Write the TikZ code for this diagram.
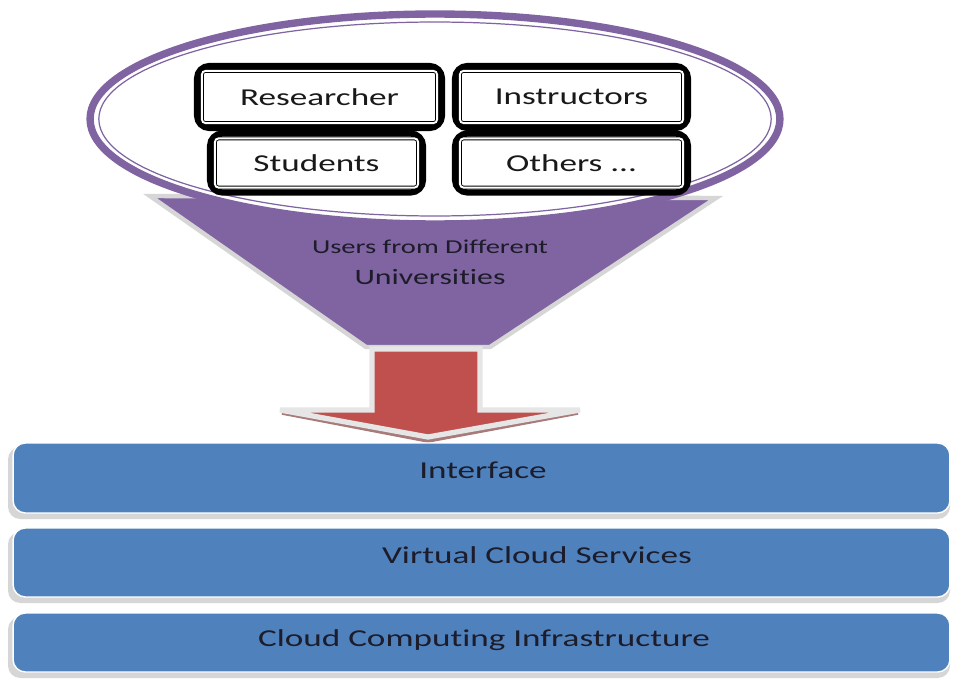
\documentclass[tikz,border=0pt]{standalone}
\usepackage{fontspec}
\setmainfont{Carlito}[FakeStretch=1.45, Ligatures=NoCommon]
\usetikzlibrary{shapes.geometric,calc}
\definecolor{upurple}{HTML}{8064A2}
\definecolor{ured}{HTML}{C0504D}
\definecolor{ublue}{HTML}{4F81BD}
\definecolor{utext}{HTML}{1C1C2A}
\definecolor{ushadow}{HTML}{D6D6D6}
\definecolor{ubevel}{HTML}{A87A7A}
\begin{document}
\begin{tikzpicture}[x=0.02cm,y=-0.02cm,
 rolebox/.style={draw=black, line width=3.5pt, rounded corners=7pt, fill=white, font=\fontsize{13.8}{16}\selectfont, text=black!90},
 innerbox/.style={draw=black, double=white, double distance=1.1pt, line width=0.5pt, rounded corners=2pt},
 layer/.style={fill=ublue, draw=white, line width=0.8pt, rounded corners=7pt, minimum width=18.74cm},
 layertext/.style={font=\fontsize{13.8}{16}\selectfont, text=utext},
 shadowbox/.style={fill=ushadow, rounded corners=7pt},
]
\useasboundingbox (0,0) rectangle (953,679);
\fill[white] (0,0) rectangle (953,679);

% funnel
\filldraw[fill=upurple, draw=ushadow, line width=2.5pt] (150,196) -- (716,198) -- (490,347) -- (366,347) -- cycle;
% arrow
\draw[ubevel, line width=2pt, line join=round] (282,413) -- (428,441) -- (578,413);
\filldraw[fill=ured, draw=ushadow!60, line width=3pt] (372,349) -- (480,349) -- (480,410) -- (580,410) -- (428,437) -- (280,410) -- (372,410) -- cycle;

% ellipse
\node[ellipse, draw=upurple, line width=4.2pt, fill=white, minimum width=13.8cm, minimum height=4.2cm] (users) at (435,119) {};
\node[ellipse, draw=upurple, line width=0.7pt, minimum width=13.45cm, minimum height=3.88cm] (usersin) at (users.center) {};

% role boxes
\node[rolebox, minimum width=4.9cm, minimum height=1.24cm] (res) at (319.5,97) {Researcher};
\node[rolebox, minimum width=4.66cm, minimum height=1.24cm] (ins) at (571.5,97) {Instructors};
\node[rolebox, minimum width=4.26cm, minimum height=1.18cm] (stu) at (316.5,163) {Students};
\node[rolebox, minimum width=4.66cm, minimum height=1.18cm] (oth) at (571.5,163) {Others ...};
\foreach \n in {res,ins,stu,oth}
  \draw[innerbox] ($(\n.north west)+(8,8)$) rectangle ($(\n.south east)+(-8,-8)$);

% funnel labels
\node[font=\fontsize{11.2}{13}\selectfont, text=utext] (ulbl) at (430,247) {Users from Different};
\node[font=\fontsize{12.5}{15}\selectfont, text=utext] (univ) at (430,277) {Universities};

% layers
\fill[shadowbox] (8,447) rectangle (950,519);
\fill[shadowbox] (8,532) rectangle (950,603);
\fill[shadowbox] (8,617) rectangle (950,678);
\node[layer, minimum height=1.4cm] (l1) at (481.5,478) {};
\node[layer, minimum height=1.38cm] (l2) at (481.5,562.5) {};
\node[layer, minimum height=1.18cm] (l3) at (481.5,642.5) {};
\node[layertext] (t1) at (483,470) {Interface};
\node[layertext] (t2) at (537,555) {Virtual Cloud Services};
\node[layertext] (t3) at (484,640) {Cloud Computing Infrastructure};
\end{tikzpicture}
\end{document}
